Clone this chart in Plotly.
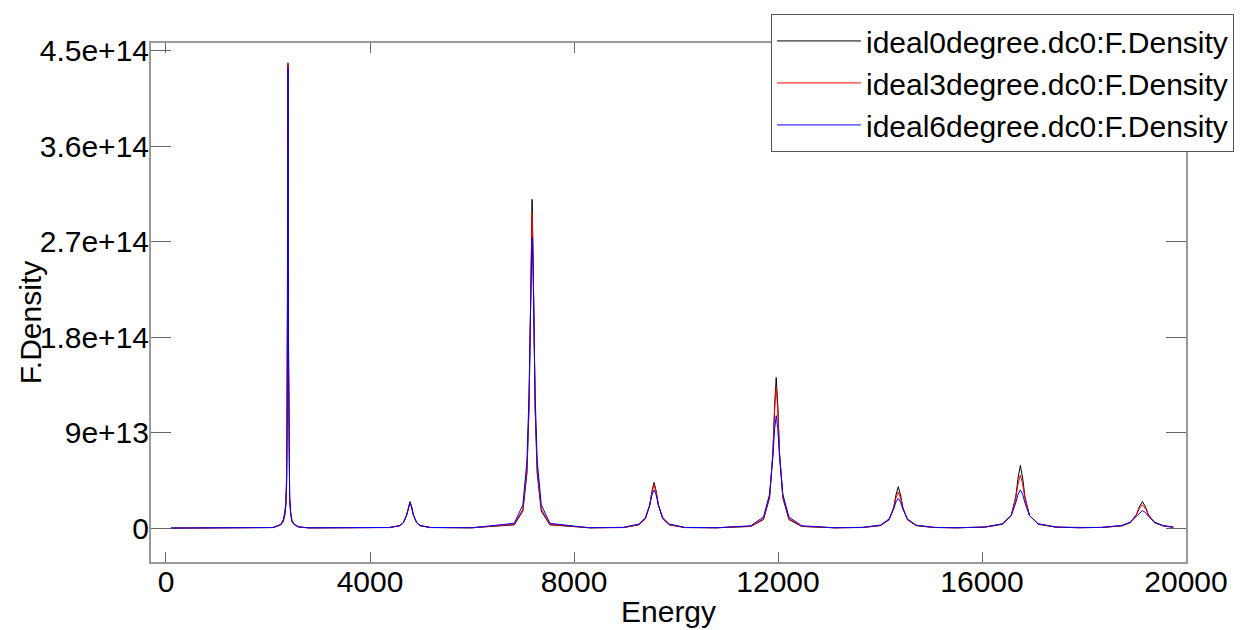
import plotly.graph_objects as go

# ---------------- data (F.Density in units of 1e13) ----------------
energy = [
    100, 1800,
    2100, 2250, 2300, 2330, 2350, 2365, 2375, 2382, 2388, 2392, 2396, 2402, 2410, 2425, 2445, 2470, 2520, 2600, 2800,
    3600,
    4385, 4585, 4655, 4720, 4755, 4785, 4815, 4850, 4915, 4985, 5185,
    6000,
    6828, 6998, 7078, 7118, 7138, 7158, 7178, 7198, 7218, 7238, 7278, 7358, 7528,
    8300,
    8970, 9270, 9400, 9485, 9530, 9570, 9610, 9655, 9740, 9870, 10170,
    10800,
    11465, 11715, 11835, 11900, 11935, 11965, 11995, 12030, 12095, 12215, 12465,
    13100,
    13658, 14008, 14178, 14268, 14313, 14358, 14403, 14448, 14538, 14708, 15058,
    15500,
    16052, 16402, 16572, 16662, 16707, 16752, 16797, 16842, 16932, 17102, 17452,
    17900,
    18345, 18745, 18905, 19025, 19085, 19145, 19205, 19265, 19385, 19545, 19750,
]

density_0deg = [
    0.0, 0.02,
    0.05, 0.3, 0.6, 1.2, 2.1, 4.0, 9.0, 22.0, 39.5, 43.8, 36.0, 15.0, 6.0, 2.6, 1.3, 0.6, 0.3, 0.1, 0.02,
    0.02,
    0.05, 0.22, 0.5, 1.25, 2.05, 2.5, 2.05, 1.25, 0.5, 0.22, 0.05,
    0.03,
    0.3, 1.6, 5.2, 11.2, 17.3, 25.9, 31.0, 25.9, 17.3, 11.2, 5.2, 1.6, 0.3,
    0.03,
    0.05, 0.3, 0.86, 2.15, 3.52, 4.3, 3.52, 2.15, 0.86, 0.3, 0.05,
    0.03,
    0.15, 0.8, 2.84, 7.1, 11.7, 14.2, 11.7, 7.1, 2.84, 0.8, 0.15,
    0.03,
    0.05, 0.23, 0.78, 1.95, 3.12, 3.9, 3.12, 1.95, 0.78, 0.23, 0.05,
    0.03,
    0.08, 0.36, 1.18, 2.95, 4.72, 5.9, 4.72, 2.95, 1.18, 0.36, 0.08,
    0.03,
    0.05, 0.21, 0.5, 1.25, 2.0, 2.5, 2.0, 1.25, 0.5, 0.21, 0.07,
]

density_3deg = [
    0.0, 0.02,
    0.05, 0.3, 0.7, 1.4, 2.3, 4.4, 10.0, 20.0, 37.5, 43.9, 37.0, 17.0, 6.6, 2.7, 1.4, 0.7, 0.3, 0.1, 0.02,
    0.02,
    0.05, 0.22, 0.49, 1.22, 2.0, 2.45, 2.0, 1.22, 0.49, 0.22, 0.05,
    0.03,
    0.35, 1.8, 5.6, 11.6, 17.5, 25.3, 29.7, 25.3, 17.5, 11.6, 5.6, 1.8, 0.35,
    0.03,
    0.05, 0.32, 0.9, 2.17, 3.42, 4.1, 3.42, 2.17, 0.9, 0.32, 0.05,
    0.03,
    0.17, 0.9, 3.0, 7.1, 11.2, 13.3, 11.2, 7.1, 3.0, 0.9, 0.17,
    0.03,
    0.06, 0.25, 0.8, 1.88, 2.83, 3.4, 2.83, 1.88, 0.8, 0.25, 0.06,
    0.03,
    0.09, 0.38, 1.18, 2.76, 4.16, 5.0, 4.16, 2.76, 1.18, 0.38, 0.09,
    0.03,
    0.06, 0.22, 0.53, 1.23, 1.84, 2.2, 1.84, 1.23, 0.53, 0.22, 0.08,
]

density_6deg = [
    0.0, 0.02,
    0.05, 0.35, 0.8, 1.5, 2.4, 5.0, 11.0, 25.0, 41.0, 43.5, 38.5, 18.0, 7.0, 3.0, 1.5, 0.7, 0.35, 0.12, 0.02,
    0.02,
    0.06, 0.24, 0.52, 1.25, 1.98, 2.4, 1.98, 1.25, 0.52, 0.24, 0.06,
    0.03,
    0.45, 2.2, 6.4, 12.6, 18.0, 24.3, 27.4, 24.3, 18.0, 12.6, 6.4, 2.2, 0.45,
    0.03,
    0.07, 0.38, 0.99, 2.17, 3.14, 3.6, 3.14, 2.17, 0.99, 0.38, 0.07,
    0.03,
    0.22, 1.05, 3.2, 6.7, 9.4, 10.6, 9.4, 6.7, 3.2, 1.05, 0.22,
    0.03,
    0.07, 0.28, 0.86, 1.79, 2.46, 2.8, 2.46, 1.79, 0.86, 0.28, 0.07,
    0.03,
    0.1, 0.41, 1.17, 2.37, 3.19, 3.6, 3.19, 2.37, 1.17, 0.41, 0.1,
    0.03,
    0.07, 0.25, 0.55, 1.1, 1.47, 1.65, 1.47, 1.1, 0.55, 0.25, 0.1,
]

series_names = [
    "ideal0degree.dc0:F.Density",
    "ideal3degree.dc0:F.Density",
    "ideal6degree.dc0:F.Density",
]
series_colors = ["#000000", "#ff0000", "#0000ff"]

x_ticks = [0, 4000, 8000, 12000, 16000, 20000]
x_tick_labels = ["0", "4000", "8000", "12000", "16000", "20000"]
y_ticks = [0, 9e13, 1.8e14, 2.7e14, 3.6e14, 4.5e14]
y_tick_labels = ["0", "9e+13", "1.8e+14", "2.7e+14", "3.6e+14", "4.5e+14"]

x_title = "Energy"
y_title = "F.Density"

SCALE = 1e13
# -------------------------------------------------------------------

FONT = "Liberation Sans, Arial, sans-serif"
fig = go.Figure()
for name, vals, col in zip(series_names, [density_0deg, density_3deg, density_6deg], series_colors):
    assert len(vals) == len(energy)
    fig.add_trace(go.Scatter(
        x=energy, y=[v * SCALE for v in vals], mode="lines", name=name,
        line=dict(color=col, width=1),
    ))

axis_common = dict(
    showline=True, linecolor="#9a9a9a", linewidth=2, mirror="ticks",
    ticks="inside", tickcolor="#666666", tickwidth=1,
    showgrid=False, zeroline=False, automargin=False,
    tickfont=dict(family=FONT, size=30, color="#000000"),
)

fig.update_layout(
    width=1243, height=630,
    margin=dict(l=143, r=65, t=35, b=76, autoexpand=False),
    paper_bgcolor="white", plot_bgcolor="white",
    font=dict(family=FONT, color="#000000"),
    xaxis=dict(
        range=[-294, 20000], tickvals=x_ticks, ticktext=x_tick_labels, ticklen=10,
        ticklabelstandoff=-8,
        **axis_common,
    ),
    yaxis=dict(
        range=[-3.2e13, 4.575e14], tickvals=y_ticks, ticktext=y_tick_labels, ticklen=20,
        ticklabelstandoff=-6,
        **axis_common,
    ),
    legend=dict(
        x=0.599, y=1.056, xanchor="left", yanchor="top",
        bgcolor="white", bordercolor="#555555", borderwidth=1,
        font=dict(family=FONT, size=30, color="#000000"),
        itemwidth=84, tracegroupgap=0,
    ),
    showlegend=True,
    annotations=[
        dict(text=x_title, xref="paper", yref="paper", x=0.5, y=-0.096,
             xanchor="center", yanchor="middle", showarrow=False,
             font=dict(family=FONT, size=30, color="#000000")),
        dict(text=y_title, xref="paper", yref="paper", x=-0.117, y=0.462,
             xanchor="center", yanchor="middle", showarrow=False, textangle=-90,
             font=dict(family=FONT, size=30, color="#000000")),
    ],
)

fig.write_html("out.html")
